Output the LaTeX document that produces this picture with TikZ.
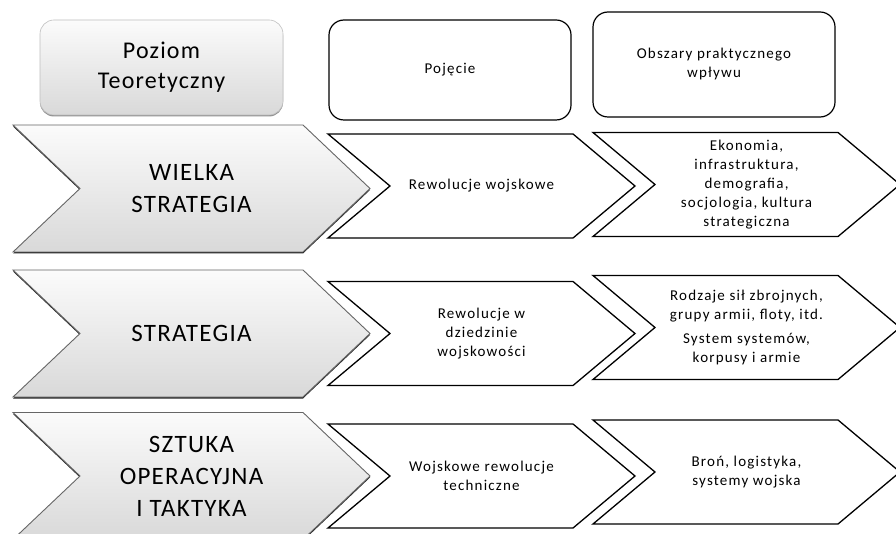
\documentclass[tikz,border=0pt]{standalone}
\usepackage{fontspec}
\setmainfont{Carlito}
\newfontfamily\levelfont[LetterSpace=5]{Carlito}
\newfontfamily\notefont[LetterSpace=8]{Carlito}
\usetikzlibrary{shapes.symbols, shadows, positioning}
\tikzset{
  arrowshape/.style={signal, signal from=west, signal to=east, inner sep=0pt, align=center}, % chevron with notch and point
  grayshade/.style={draw=black!45, line width=0.6pt, top color=gray!3, bottom color=gray!30,
    drop shadow={shadow xshift=0pt, shadow yshift=-1.5pt, fill=black!85}},
  level/.style={align=center, font=\levelfont\fontsize{25}{32}\selectfont},
  concept/.style={arrowshape, signal pointer angle=80, minimum width=307pt, minimum height=104pt,
    draw=black, line width=1.3pt, fill=white, font=\notefont\fontsize{15}{19}\selectfont},
  headgray/.style={rectangle, rounded corners=14pt, minimum width=243pt, minimum height=95pt, align=center,
    grayshade, draw=gray!50, font=\levelfont\fontsize{24}{30}\selectfont},
  headbox/.style={rectangle, rounded corners=15pt, minimum width=242pt, minimum height=100pt, align=center,
    draw=black, line width=1.2pt, fill=white, font=\notefont\fontsize{15}{19}\selectfont},
}
% gray chevron round a given centre: notch on the left, point on the right
\newcommand\chevronpath{++(-178.5,-63.5) -- ++(290,0) -- ++(67,63.5) -- ++(-67,63.5)
    -- ++(-290,0) -- ++(67,-63.5) -- cycle}
\newcommand\levelarrow[1]{%
  \fill[black!85] ([yshift=-1.5pt]#1) \chevronpath;
  \shade[top color=gray!3, bottom color=gray!30] (#1) \chevronpath;
  \draw[black!60, line width=0.9pt] (#1) \chevronpath;}

\begin{document}
\begin{tikzpicture}[x=1pt, y=-1pt, on grid]
  \useasboundingbox[fill=white] (0,0) rectangle (896,534);

  % column headers
  \node[headgray] (hlevel) at (161.5,67.5) {Poziom\\Teoretyczny};
  \node[headbox] (hconcept) at (450,70) {Pojęcie};
  \node[headbox, minimum height=105pt] (hareas) at (714,64.5) {Obszary praktycznego\\wpływu};

  % row 1
  \levelarrow{191.5,188.5}
  \node[level] (l1) at (191.5,188.5) {WIELKA\\STRATEGIA};
  \node[concept, right=290pt of l1, yshift=2.5pt] (c1) {Rewolucje wojskowe};
  \node[concept, right=555pt of l1, yshift=4pt] (a1)
    {Ekonomia,\\infrastruktura,\\demografia,\\socjologia, kultura\\strategiczna};

  % row 2
  \levelarrow{191.5,333.5}
  \node[level] (l2) at (191.5,333.5) {STRATEGIA};
  \node[concept, right=290pt of l2] (c2) {Rewolucje w\\dziedzinie\\wojskowości};
  \node[concept, right=555pt of l2, yshift=6pt] (a2)
    {Rodzaje sił zbrojnych,\\grupy armii, floty, itd.\\[5pt]System systemów,\\korpusy i armie};

  % row 3
  \levelarrow{191.5,476}
  \node[level] (l3) at (191.5,476) {SZTUKA\\OPERACYJNA\\I TAKTYKA};
  \node[concept, right=290pt of l3] (c3) {Wojskowe rewolucje\\techniczne};
  \node[concept, right=555pt of l3, yshift=4pt] (a3) {Broń, logistyka,\\systemy wojska};
\end{tikzpicture}
\end{document}
